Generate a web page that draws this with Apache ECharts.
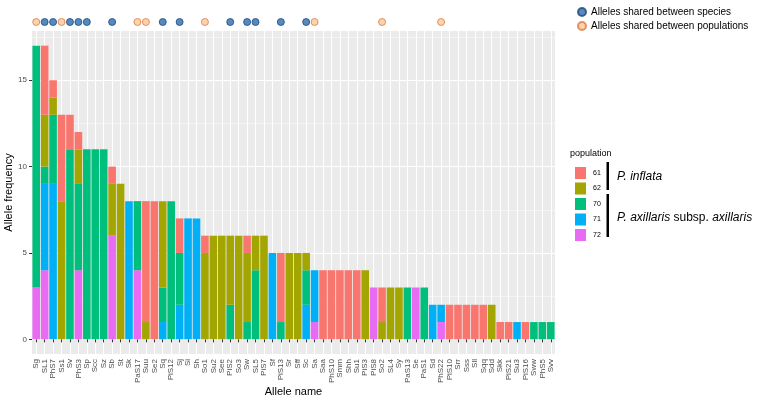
<!DOCTYPE html>
<html><head><meta charset="utf-8">
<script src="https://cdn.jsdelivr.net/npm/echarts@6/dist/echarts.min.js"></script>
<style>html,body{margin:0;padding:0;background:#fff}#c{width:757px;height:402px}</style>
</head><body><div id="c"></div>
<script>
const categories = ['Sg','SL1','PhS7','Ss1','Sv','PhS3','Sp','Scc','Sz','Sb','St','Sk','PaS17','Suu','Se2','Sq','PiS12','Sj','Si','Sh','So1','Su2','See','PiS2','So3','Sw','SL5','PiS7','Sf','PiS13','Sr','Sff','Sc','Sa','Saa','PhS10','Smm','Shh','Su1','PiS3','PiS8','So2','SL4','Sy','PaS13','Se','PaS1','Sd','PhS22','PiS10','Srr','Sss','Sll','Sqq','Sdd','Skk','PiS21','Su3','PiS16','Sww','PhS5','Svv'];
const pop61 = [0,4,1,5,2,1,0,0,0,1,0,0,0,7,8,0,0,2,0,0,1,0,0,0,0,1,0,0,0,4,0,0,0,0,4,4,4,4,4,0,0,2,0,0,0,0,0,0,0,2,2,2,2,2,0,1,1,0,1,0,0,0];
const pop62 = [0,3,1,8,0,2,0,0,0,3,9,0,0,1,0,5,0,0,0,0,5,6,6,4,6,4,2,6,0,0,5,5,1,0,0,0,0,0,0,4,0,1,3,3,0,0,0,0,0,0,0,0,0,0,2,0,0,0,0,0,0,0];
const pop70 = [14,1,4,0,11,5,11,11,11,0,0,0,4,0,0,2,8,3,0,0,0,0,0,2,0,1,4,0,0,1,0,0,2,0,0,0,0,0,0,0,0,0,0,0,3,0,3,0,0,0,0,0,0,0,0,0,0,0,0,1,1,1];
const pop71 = [0,5,9,0,0,0,0,0,0,0,0,8,0,0,0,1,0,2,7,7,0,0,0,0,0,0,0,0,5,0,0,0,2,3,0,0,0,0,0,0,0,0,0,0,0,0,0,2,1,0,0,0,0,0,0,0,0,1,0,0,0,0];
const pop72 = [3,4,0,0,0,4,0,0,0,6,0,0,4,0,0,0,0,0,0,0,0,0,0,0,0,0,0,0,0,0,0,0,0,1,0,0,0,0,0,0,3,0,0,0,0,3,0,0,1,0,0,0,0,0,0,0,0,0,0,0,0,0];
const speciesShared = ['SL1','PhS7','Sv','PhS3','Sp','Sb','Sq','Sj','PiS2','Sw','SL5','PiS13','Sc'];
const popShared = ['Sg','Ss1','PaS17','Suu','So1','Sa','So2','PhS22'];
const yTicks = [0,5,10,15];
const minorTicks = [2.5,7.5,12.5,17.5];
const popNames = ['61','62','70','71','72'];

const FONT = 'Liberation Sans, Arial, sans-serif';
const colors = {'61':'#F8766D','62':'#A3A500','70':'#00BF7D','71':'#00B0F6','72':'#E76BF3'};
const popData = {'61':pop61,'62':pop62,'70':pop70,'71':pop71,'72':pop72};
const SP_NAME = 'Alleles shared between species';
const PO_NAME = 'Alleles shared between populations';

const barSeries = ['72','71','70','62','61'].map((p, i) => {
  const s = {
    type:'bar', name:p, stack:'total', xAxisIndex:0, yAxisIndex:0,
    data: popData[p], barCategoryGap:'10%',
    itemStyle:{color:colors[p]}
  };
  if (i === 0) {
    s.markLine = {
      silent:true, z:1, symbol:['none','none'], label:{show:false},
      lineStyle:{color:'#ffffff', width:0.5, type:'solid'},
      emphasis:{disabled:true},
      data: minorTicks.map(v => ({yAxis:v}))
    };
  }
  return s;
});

const option = {
  animation:false,
  textStyle:{fontFamily:FONT},
  grid:[
    {left:32, right:202, top:31, bottom:48, show:true, backgroundColor:'#EBEBEB', borderWidth:0, containLabel:false, outerBoundsMode:'none'},
    {left:32, right:202, top:14, height:16, containLabel:false, outerBoundsMode:'none'}
  ],
  xAxis:[
    {type:'category', gridIndex:0, data:categories, boundaryGap:true,
     axisLine:{show:false},
     axisTick:{show:true, alignWithLabel:true, length:3, lineStyle:{color:'#333333', width:1}},
     axisLabel:{rotate:90, interval:0, fontSize:8, color:'#4D4D4D', margin:5, fontFamily:FONT},
     splitLine:{show:true, alignWithLabel:true, interval:0, lineStyle:{color:'#ffffff', width:1}},
     name:'Allele name', nameLocation:'middle', nameGap:32, nameMoveOverlap:false,
     nameTextStyle:{fontSize:11, color:'#000', fontFamily:FONT}},
    {type:'category', gridIndex:1, data:categories, show:false}
  ],
  yAxis:[
    {type:'value', gridIndex:0, min:-0.85, max:17.85, minInterval:5, maxInterval:5,
     axisLine:{show:false},
     axisTick:{show:true, length:3, customValues:yTicks, lineStyle:{color:'#333333', width:1}},
     axisLabel:{customValues:yTicks, fontSize:8, color:'#4D4D4D', margin:5, fontFamily:FONT},
     splitLine:{show:true, lineStyle:{color:'#ffffff', width:1}},
     name:'Allele frequency', nameLocation:'middle', nameGap:18, nameRotate:90, nameMoveOverlap:false,
     nameTextStyle:{fontSize:11, color:'#000', fontFamily:FONT}},
    {type:'value', gridIndex:1, min:-1, max:1, show:false}
  ],
  legend:[
    {data:[SP_NAME, PO_NAME], orient:'vertical', left:572, top:2, itemWidth:8, itemHeight:8,
     itemGap:4, icon:'circle', selectedMode:false,
     textStyle:{fontSize:10, color:'#000', fontFamily:FONT}},
    {data:popNames, orient:'vertical', left:570, top:162, itemWidth:11, itemHeight:12,
     itemGap:3.5, icon:'rect', selectedMode:false,
     textStyle:{fontSize:7, color:'#000', fontFamily:FONT, padding:[0,0,0,2]}}
  ],
  graphic:[
    {type:'text', left:570, top:149, style:{text:'population', fontSize:9, fill:'#000', fontFamily:FONT}},
    {type:'rect', shape:{x:606.5, y:162, width:2.5, height:28}, style:{fill:'#000'}},
    {type:'rect', shape:{x:606.5, y:194, width:2.5, height:43}, style:{fill:'#000'}},
    {type:'text', x:617, y:177, style:{text:'P. inflata', fontSize:12, fontStyle:'italic', fill:'#000', fontFamily:FONT, verticalAlign:'middle'}},
    {type:'text', x:617, y:218, style:{text:'{i|P. axillaris} subsp. {i|axillaris}', fontSize:12, fill:'#000', fontFamily:FONT, verticalAlign:'middle',
      rich:{i:{fontStyle:'italic', fontSize:12, fontFamily:FONT}}}}
  ],
  series: barSeries.concat([
    {type:'scatter', name:SP_NAME, xAxisIndex:1, yAxisIndex:1, symbolSize:7,
     data: speciesShared.map(c => [c, 0]),
     itemStyle:{color:'#2D6CAE', borderColor:'#1B4B7D', borderWidth:1}},
    {type:'scatter', name:PO_NAME, xAxisIndex:1, yAxisIndex:1, symbolSize:7,
     data: popShared.map(c => [c, 0]),
     itemStyle:{color:'#F9C8A0', borderColor:'#DE7B3C', borderWidth:1}}
  ])
};
const chart = echarts.init(document.getElementById('c'), null, {renderer:'canvas'});
chart.setOption(option);
</script></body></html>
